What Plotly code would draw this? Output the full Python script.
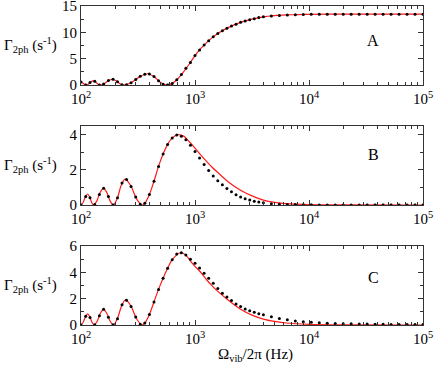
import plotly.graph_objects as go

# frequency grid of the black dots (Hz), shared by the three panels
dot_freq = [100, 110, 120, 132, 145, 158, 174, 191, 209, 229, 251, 275, 302, 331, 363,
            398, 437, 479, 525, 575, 631, 692, 759, 832, 912, 1000, 1096, 1202, 1318,
            1445, 1585, 1738, 1905, 2089, 2291, 2512, 2754, 3020, 3311, 3631, 3981,
            4677, 5495, 6457, 7586, 8913, 10471, 12303, 14454, 16982, 19953, 23442,
            27542, 32359, 38019, 44668, 52481, 61660, 72444, 85114, 100000]

dots_a = [0.60, 0.01, 0.48, 0.72, 0.03, 0.23, 0.86, 1.10, 0.64, 0.07, 0.06, 0.45, 1.06,
          1.69, 2.07, 2.11, 1.61, 0.82, 0.17, 0.01, 0.30, 1.00, 2.00, 3.20, 4.30, 5.60,
          6.65, 7.60, 8.40, 9.15, 9.80, 10.3, 10.8, 11.2, 11.55, 11.9, 12.15, 12.4,
          12.6, 12.8, 12.95, 13.12, 13.22, 13.30, 13.36, 13.40, 13.42, 13.43, 13.44,
          13.45, 13.45, 13.45, 13.45, 13.45, 13.45, 13.45, 13.45, 13.45, 13.45, 13.45,
          13.45]

dots_b = [0.0, 0.48, 0.41, 0.03, 0.60, 0.96, 0.49, 0.0, 0.42, 1.26, 1.45, 1.05, 0.46,
          0.04, 0.10, 0.60, 1.35, 2.20, 2.90, 3.45, 3.82, 3.98, 3.92, 3.72, 3.40, 3.05,
          2.68, 2.30, 1.97, 1.65, 1.38, 1.15, 0.94, 0.75, 0.59, 0.46, 0.36, 0.29, 0.22,
          0.17, 0.13, 0.08, 0.05, 0.035, 0.025, 0.02, 0.015, 0.01, 0.01, 0.008, 0.006,
          0.005, 0.004, 0.003, 0.003, 0.002, 0.002, 0.001, 0.001, 0.001, 0.0]

dots_c = [0.0, 0.66, 0.57, 0.01, 0.71, 1.19, 0.58, 0.01, 0.48, 1.54, 1.88, 1.40, 0.60,
          0.05, 0.15, 0.80, 1.75, 2.70, 3.55, 4.30, 4.95, 5.38, 5.48, 5.30, 4.98, 4.68,
          4.32, 3.92, 3.54, 3.16, 2.76, 2.40, 2.12, 1.85, 1.60, 1.40, 1.22, 1.08, 0.96,
          0.86, 0.77, 0.62, 0.49, 0.39, 0.31, 0.25, 0.20, 0.17, 0.14, 0.12, 0.10, 0.09,
          0.08, 0.07, 0.06, 0.05, 0.045, 0.04, 0.035, 0.03, 0.03]

# red theory curves
line_freq_a = [100, 103.5, 107.2, 111.2, 116.4, 121.9, 127.9, 134.0, 140.6, 147.2, 159.6,
               173.0, 187.5, 203.2, 219.8, 238.2, 279.3, 328.1, 384.6, 436.5, 495.5, 562.3,
               602.6, 631, 708, 794, 891, 1000, 1122, 1259, 1413, 1585, 1995, 2512, 3162,
               3981, 5012, 6310, 7943, 10000, 19953, 100000]
line_a = [0.60, 0.40, 0.15, 0.0, 0.20, 0.60, 0.80, 0.60, 0.20, 0.0, 0.275, 0.825, 1.10,
          0.825, 0.275, 0.0, 0.54, 1.61, 2.15, 1.61, 0.54, 0.0, 0.10, 0.30, 1.20, 2.50,
          4.00, 5.60, 6.90, 8.00, 9.00, 9.80, 11.0, 11.9, 12.5, 12.95, 13.18, 13.30,
          13.38, 13.42, 13.45, 13.45]

line_freq_b = [100, 104.5, 109.4, 114.3, 118.9, 123.9, 128.8, 137.7, 147.2, 157.4, 168.3,
               179.9, 192.3, 208.0, 224.9, 243.2, 272.9, 306.2, 343.6, 363.1, 398.1, 436.5,
               478.6, 524.8, 575.4, 631, 707.9, 794.3, 891.3, 1000, 1122, 1259, 1413, 1585,
               1950, 2512, 3162, 3981, 5012, 6310, 10000, 19953, 100000]
line_b = [0.0, 0.16, 0.47, 0.63, 0.47, 0.16, 0.0, 0.24, 0.72, 0.96, 0.72, 0.24, 0.0, 0.37,
          1.11, 1.48, 1.11, 0.37, 0.0, 0.10, 0.60, 1.35, 2.20, 2.90, 3.45, 3.82, 4.00,
          3.92, 3.60, 3.24, 2.85, 2.50, 2.15, 1.85, 1.33, 0.84, 0.52, 0.28, 0.15, 0.08,
          0.03, 0.01, 0.0]

line_freq_c = [100, 104.5, 109.4, 114.3, 119.4, 125.0, 130.6, 139.0, 147.9, 157.4, 168.3,
               179.9, 192.3, 208.4, 226.5, 245.5, 274.8, 306.9, 343.6, 363.1, 398.1, 436.5,
               478.6, 524.8, 575.4, 631, 741.3, 831.8, 912, 1000, 1122, 1259, 1413, 1585,
               1950, 2512, 3162, 3981, 5012, 6310, 10000, 19953, 100000]
line_c = [0.0, 0.21, 0.63, 0.84, 0.63, 0.21, 0.0, 0.30, 0.89, 1.19, 0.89, 0.30, 0.0, 0.475,
          1.425, 1.90, 1.425, 0.475, 0.0, 0.15, 0.80, 1.75, 2.70, 3.55, 4.30, 4.95, 5.48,
          5.30, 4.85, 4.45, 4.00, 3.45, 2.97, 2.55, 1.90, 1.20, 0.75, 0.45, 0.27, 0.15,
          0.05, 0.01, 0.0]

panel_labels = ["A", "B", "C"]
y_ranges = [[0, 15], [0, 4.5], [0, 6]]
y_dticks = [5, 2, 2]
y_minor = [2.5, 1, 1]
x_tickvals = [100, 1000, 10000, 100000]
x_ticktext = ["10<sup>2</sup>", "10<sup>3</sup>", "10<sup>4</sup>", "10<sup>5</sup>"]

FONT = "'Liberation Serif', 'Times New Roman', Times, serif"
AX = "#333333"

fig = go.Figure()

panels = [(line_freq_a, line_a, dots_a), (line_freq_b, line_b, dots_b), (line_freq_c, line_c, dots_c)]
for i, (lf, lv, dv) in enumerate(panels):
    sfx = "" if i == 0 else str(i + 1)
    fig.add_trace(go.Scatter(x=lf, y=lv, mode="lines",
                             line=dict(color="#ff1a1a", width=1.2, shape="spline", smoothing=0.8),
                             xaxis="x" + sfx, yaxis="y" + sfx, showlegend=False))
    fig.add_trace(go.Scatter(x=dot_freq, y=dv, mode="markers", marker=dict(color="black", size=3),
                             xaxis="x" + sfx, yaxis="y" + sfx, showlegend=False))

# panel domains (pixel-measured): A 6-85, B 126-205, C 246-325, plot height 319
domains = [[0.752, 1.0], [0.376, 0.624], [0.0, 0.248]]
layout = {}
for i in range(3):
    sfx = "" if i == 0 else str(i + 1)
    layout["xaxis" + sfx] = dict(
        type="log", range=[2, 5], anchor="y" + sfx, domain=[0, 1], automargin=False,
        ticklabeloverflow="allow",
        tickvals=x_tickvals, ticktext=x_ticktext, ticks="inside", ticklen=5,
        tickcolor=AX, showline=True, linecolor=AX, linewidth=1.2, mirror="ticks",
        showgrid=False, zeroline=False, tickfont=dict(family=FONT, size=15, color="black"),
        minor=dict(ticks="inside", ticklen=3, tickcolor=AX,
                   tickvals=[m * 10 ** e for e in (2, 3, 4) for m in range(2, 10)], showgrid=False),
    )
    layout["yaxis" + sfx] = dict(
        range=y_ranges[i], anchor="x" + sfx, domain=domains[i], dtick=y_dticks[i],
        automargin=False, ticklabeloverflow="allow", ticks="inside", ticklen=5,
        tickcolor=AX, showline=True, linecolor=AX, linewidth=1.2, mirror="ticks",
        showgrid=False, zeroline=False, tickfont=dict(family=FONT, size=15, color="black"),
        minor=dict(ticks="inside", ticklen=3, tickcolor=AX, dtick=y_minor[i], showgrid=False),
    )

fig.update_layout(**layout)

ann = []
label_y = [0.878, 0.502, 0.125]
panel_y = [0.893, 0.533, 0.15]
for i in range(3):
    ann.append(dict(text="Γ<sub>2ph</sub> (s<sup>-1</sup>)", xref="paper", yref="paper",
                    x=-0.065, y=label_y[i], xanchor="right", yanchor="middle", showarrow=False,
                    font=dict(family=FONT, size=15, color="black")))
    ann.append(dict(text=panel_labels[i], xref="paper", yref="paper", x=0.855, y=panel_y[i],
                    xanchor="center", yanchor="middle", showarrow=False,
                    font=dict(family=FONT, size=16, color="black")))
ann.append(dict(text="Ω<sub>vib</sub>/2π (Hz)", xref="paper", yref="paper", x=0.509, y=-0.094,
                xanchor="center", yanchor="middle", showarrow=False,
                font=dict(family=FONT, size=15, color="black")))

fig.update_layout(
    width=436, height=370,
    margin=dict(l=81, r=13, t=6, b=45),
    paper_bgcolor="white", plot_bgcolor="white",
    annotations=ann,
)

# drop the default page margin so the figure sits at the window's corner
fig.write_html("out.html", config={"displayModeBar": False},
               post_script="document.body.style.margin='0';")
